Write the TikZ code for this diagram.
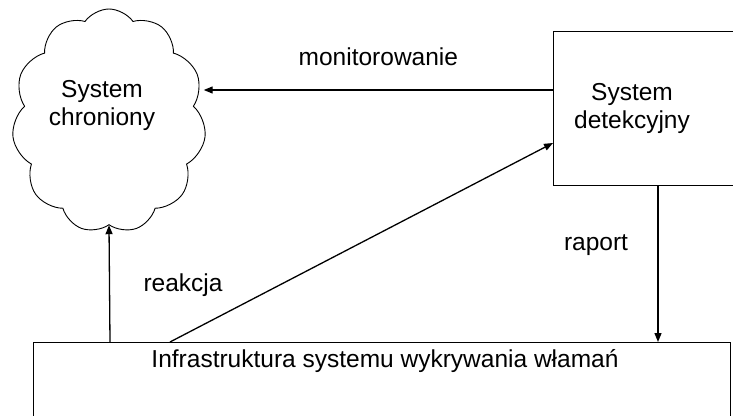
\documentclass[tikz,border=0pt]{standalone}
\usepackage{fontspec}
\setmainfont{Liberation Sans}
\usetikzlibrary{positioning,shapes.symbols,arrows.meta}

\begin{document}
\begin{tikzpicture}[x=1pt,y=-1pt,line width=1.3pt,>={Triangle[length=9pt,width=7pt]},
		font=\fontsize{24.5}{28}\selectfont]
		\useasboundingbox (0,0) rectangle (733,415);
		\clip (0,0) rectangle (733,415);

		% chroniony system (cloud) and the detector
		\node [cloud,draw,line width=0.9pt,cloud puffs=11,cloud puff arc=110,aspect=0.85,
			minimum width=194pt,minimum height=224pt,inner sep=0pt] (chron) at (109,121) {};
		\node [align=center] (chronlbl) at (102,105) {System\\chroniony};
		\node [draw,anchor=north west,minimum width=230pt,minimum height=154pt] (det) at (553,31) {};
		\node [align=center] (detlbl) at (632,108) {System\\detekcyjny};

		% infrastruktura
		\node [draw,anchor=north west,minimum width=697pt,minimum height=120pt] (infra) at (33,342) {};
		\node (infralbl) at (385,361) {Infrastruktura systemu wykrywania włamań};

		\draw[->] (det.west |- 0,90) -- (chron.east |- 0,90)
			node [midway,above=20pt] (mon) {monitorowanie};
		\draw[->] (infra.north -| 110,0) -- (chron.south);
		\draw[->] (infra.north -| 170,0) -- (det.west |- 0,143);
		\draw[->] (det.south -| 658,0) -- (infra.north -| 658,0);

		\node (reak) at (183,285) {reakcja};
		\node (rap) at (596,245) {raport};
	\end{tikzpicture}
\end{document}
